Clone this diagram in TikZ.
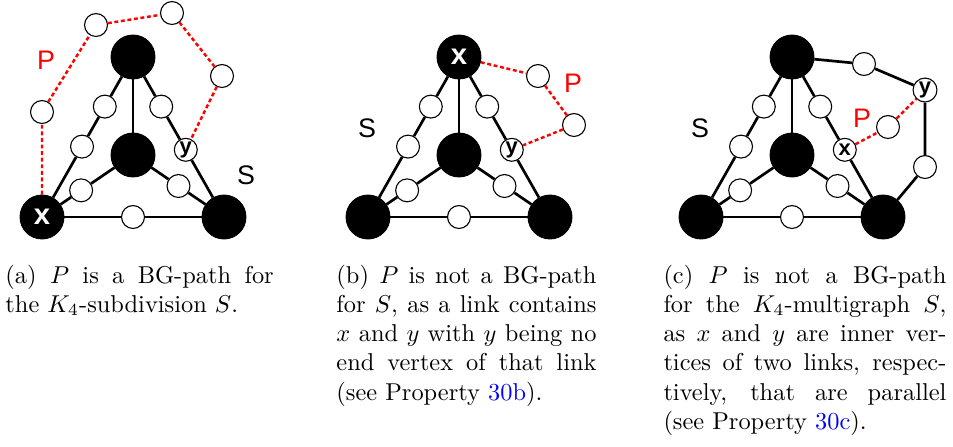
\documentclass[tikz,border=0pt]{standalone}
\usepackage{fontspec}
\newfontfamily\labelsf{Liberation Sans}
\usepackage{tikz}
\usetikzlibrary{calc}

\begin{document}
\begin{tikzpicture}[
  x=0.41pt, y=-0.41pt,
  bignode/.style={circle, fill=black, draw=black, minimum size=18pt, inner sep=0pt},
  smallnode/.style={circle, draw=black, fill=white, line width=0.45pt, minimum size=9.4pt, inner sep=0pt},
  linkline/.style={line width=1.1pt},
  ppath/.style={red, line width=1pt, dash pattern=on 1.6pt off 1.1pt},
  vlabel/.style={font=\labelsf\bfseries\fontsize{9}{9}\selectfont, inner sep=0pt},
  biglabel/.style={font=\labelsf\bfseries\fontsize{12}{12}\selectfont, white, inner sep=0pt},
  glabel/.style={font=\labelsf\fontsize{11}{11}\selectfont, inner sep=0pt},
  capt/.style={anchor=base west, inner sep=0pt, align=justify, font=\normalsize}
]
\useasboundingbox (0,0) rectangle (953,446);

% ---- K4 skeleton of all three pictures ----
\foreach \g/\dx in {a/0, b/326, c/659}{
  \node[bignode] (\g-top) at (\dx+133,57) {};
  \node[bignode] (\g-mid) at (\dx+133,155) {};
  \node[bignode] (\g-bl) at (\dx+42,217) {};
  \node[bignode] (\g-br) at (\dx+224,217) {};
  \node[smallnode] (\g-l1) at ($(\g-top)!0.31!(\g-bl)$) {};
  \node[smallnode] (\g-l2) at ($(\g-top)!0.56!(\g-bl)$) {};
  \node[smallnode] (\g-r1) at ($(\g-top)!0.31!(\g-br)$) {};
  \node[smallnode] (\g-r2) at ($(\g-top)!0.58!(\g-br)$) {};
  \node[smallnode] (\g-ml) at ($(\g-mid)!0.57!(\g-bl)$) {};
  \node[smallnode] (\g-mr) at ($(\g-mid)!0.5!(\g-br)$) {};
  \node[smallnode] (\g-bot) at ($(\g-bl)!0.5!(\g-br)$) {};

  \draw[linkline] (\g-top) -- (\g-l1) -- (\g-l2) -- (\g-bl);
  \draw[linkline] (\g-top) -- (\g-r1) -- (\g-r2) -- (\g-br);
  \draw[linkline] (\g-top) -- (\g-mid);
  \draw[linkline] (\g-mid) -- (\g-ml) -- (\g-bl);
  \draw[linkline] (\g-mid) -- (\g-mr) -- (\g-br);
  \draw[linkline] (\g-bl) -- (\g-bot) -- (\g-br);
}

% ---- (a) ----
\node[biglabel] (a-x) at (a-bl) {x};
\node[vlabel] (a-y) at (a-r2) {y};
\node[smallnode] (a-p1) at (42,112) {};
\node[smallnode] (a-p2) at (96,25) {};
\node[smallnode] (a-p3) at (172,13) {};
\node[smallnode] (a-p4) at (222,76) {};
\draw[ppath] (a-bl) -- (a-p1) -- (a-p2) -- (a-p3) -- (a-p4) -- (a-r2);
\node[glabel, red] (a-P) at (46,60) {P};
\node[glabel] (a-S) at (246,175) {S};

% ---- (b) ----
\node[biglabel] (b-x) at (b-top) {x};
\node[vlabel] (b-y) at (b-r2) {y};
\node[smallnode] (b-p1) at (538,76) {};
\node[smallnode] (b-p2) at (574,125) {};
\draw[ppath] (b-top) -- (b-p1) -- (b-p2) -- (b-r2);
\node[glabel, red] (b-P) at (573,83) {P};
\node[glabel] (b-S) at (367,128) {S};

% ---- (c) ----
\node[vlabel] (c-x) at (c-r2) {x};
\node[smallnode] (c-e1) at (864,64) {};
\node[smallnode, minimum size=9.8pt] (c-yv) at (925,90) {};
\node[smallnode] (c-e2) at (925,167) {};
\draw[linkline] (c-top) -- (c-e1) -- (c-yv) -- (c-e2) -- (c-br);
\node[vlabel] (c-y) at (c-yv) {y};
\node[smallnode] (c-p1) at (888,127) {};
\draw[ppath] (c-r2) -- (c-p1) -- (c-yv);
\node[glabel, red] (c-P) at (862,118) {P};
\node[glabel] (c-S) at (700,128) {S};

% ---- captions ----
\node[capt, text width=110pt] (capa) at (5,283) {(a) $P$ is a BG-path for\linebreak the $K_4$-subdivision $S$.};
\node[capt, text width=106.6pt] (capb) at (336,283) {(b) $P$ is not a BG-path\linebreak for $S$, as a link contains\linebreak $x$ and $y$ with $y$ being no\linebreak end vertex of that link\linebreak (see Property \textcolor{blue}{30b}).};
\node[capt, text width=116pt] (capc) at (663,283) {(c) $P$ is not a BG-path\linebreak for the $K_4$-multigraph $S$,\linebreak as $x$ and $y$ are inner ver-\linebreak tices of two links, respec-\linebreak tively, that are parallel\linebreak (see Property \textcolor{blue}{30c}).};

\end{tikzpicture}
\end{document}
